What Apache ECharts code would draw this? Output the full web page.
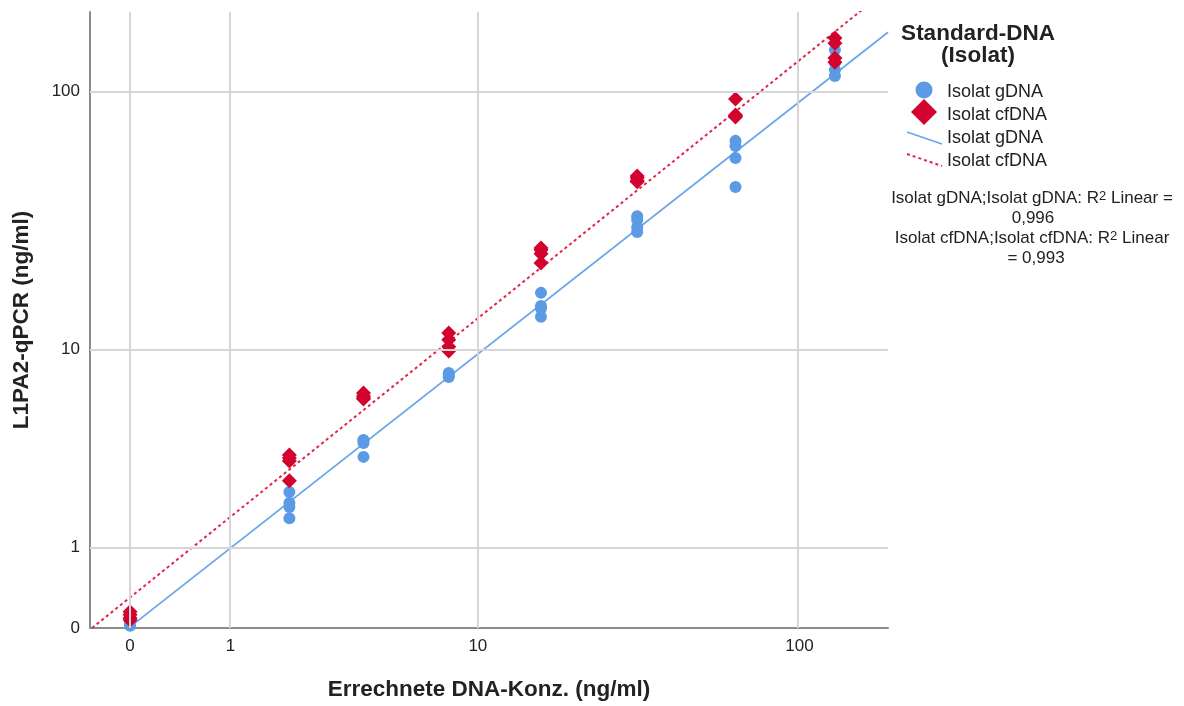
<!DOCTYPE html>
<html>
<head>
<meta charset="utf-8">
<script src="https://cdn.jsdelivr.net/npm/echarts@6/dist/echarts.min.js"></script>
<style>
  html, body { margin: 0; padding: 0; background: #fff; }
  #chart { width: 1184px; height: 706px; }
</style>
</head>
<body>
<div id="chart"></div>
<script>
// Standard concentrations (ng/ml); four replicates per level
const concentrations = [0, 2, 4, 8, 16, 32, 64, 128];

// Measured L1PA2-qPCR values (ng/ml), one row per concentration
const gdnaValues = [
  [0.02, 0.03, 0.05, 0.10],
  [2.22, 1.93, 1.83, 1.57],
  [4.03, 4.00, 3.90, 3.35],
  [7.94, 7.86, 7.72, 7.64],
  [16.8, 14.9, 14.6, 13.5],
  [33.4, 32.3, 30.3, 29.0],
  [64.7, 61.9, 55.7, 43.2],
  [142.4, 127.3, 119.8, 113.7]
];
const cfdnaValues = [
  [0.07, 0.09, 0.12, 0.15],
  [3.42, 3.31, 3.20, 2.54],
  [6.53, 6.34, 6.21, 6.15],
  [11.6, 10.9, 10.2, 9.8],
  [25.2, 24.7, 23.9, 22.0],
  [47.6, 46.8, 45.6, 45.2],
  [93.2, 81.1, 80.4, 79.7],
  [158, 151, 133, 128]
];

// Fit line end points (ng/ml)
const gdnaFitX = [0, 185];
const gdnaFitY = [0.01, 166];
const cfdnaFitX = [-0.3, 198];
const cfdnaFitY = [0, 258];

// Axis ticks and visible ranges (ng/ml)
const xTickValues = [0, 1, 10, 100];
const yTickValues = [0, 1, 10, 100];
const xRange = [-0.318, 185];
const yRange = [0, 197.8];

const seriesNames = ['Isolat gDNA', 'Isolat cfDNA'];
const rSquared = ['0,996', '0,993'];

// "Safe log" scale: sign(v) * log10(1 + |v|)
const slog = v => Math.sign(v) * Math.log10(1 + Math.abs(v));
const unslog = t => Math.sign(t) * (Math.pow(10, Math.abs(t)) - 1);

const FONT = "'Liberation Sans', Arial, sans-serif";
const BLUE = '#5b9ae4';
const BLUE_LINE = '#6aa7ea';
const RED = '#d2032f';
const RED_LINE = '#e3234c';
const TEXT = '#222';
const DIAMOND = 'path://M0,-1L1,0L0,1L-1,0Z';

function pointsOf(values) {
  const out = [];
  concentrations.forEach((c, i) => values[i].forEach(v => out.push([slog(c), slog(v)])));
  return out;
}
function lineOf(xs, ys) {
  return xs.map((x, i) => [slog(x), slog(ys[i])]);
}

const tickLabel = t => String(Math.round(unslog(t)));

const chart = echarts.init(document.getElementById('chart'), null, { renderer: 'canvas' });

const gridStyle = { color: '#d6d6d6', width: 2, type: 'solid' };
const supStyle = { fontSize: 13, verticalAlign: 'top', fill: TEXT, fontFamily: FONT };

chart.setOption({
  animation: false,
  backgroundColor: '#fff',
  textStyle: { fontFamily: FONT },
  grid: { left: 90, right: 296, top: 12, bottom: 78 },
  xAxis: {
    type: 'value',
    min: slog(xRange[0]),
    max: slog(xRange[1]),
    name: 'Errechnete DNA-Konz. (ng/ml)',
    nameLocation: 'middle',
    nameGap: 50,
    nameTextStyle: { fontFamily: FONT, fontSize: 22.5, fontWeight: 'bold', color: TEXT },
    axisLine: { show: true, onZero: false, lineStyle: { color: '#8c8c8c', width: 2 } },
    axisTick: { show: false },
    splitLine: { show: false },
    axisLabel: {
      customValues: xTickValues.map(slog),
      formatter: tickLabel,
      fontFamily: FONT, fontSize: 17, color: TEXT, margin: 10
    }
  },
  yAxis: {
    type: 'value',
    min: slog(yRange[0]),
    max: slog(yRange[1]),
    name: 'L1PA2-qPCR (ng/ml)',
    nameLocation: 'middle',
    nameGap: 57,
    nameTextStyle: { fontFamily: FONT, fontSize: 22.5, fontWeight: 'bold', color: TEXT },
    axisLine: { show: true, onZero: false, lineStyle: { color: '#8c8c8c', width: 2 } },
    axisTick: { show: false },
    splitLine: { show: false },
    axisLabel: {
      customValues: yTickValues.map(slog),
      formatter: tickLabel,
      fontFamily: FONT, fontSize: 17, color: TEXT, margin: 10
    }
  },
  series: [
    {
      // reference grid at the labelled ticks
      type: 'scatter',
      data: [],
      z: 0,
      silent: true,
      markLine: {
        silent: true,
        symbol: ['none', 'none'],
        label: { show: false },
        emphasis: { disabled: true },
        lineStyle: gridStyle,
        data: xTickValues.map(v => ({ xAxis: slog(v) }))
          .concat(yTickValues.filter(v => v > 0).map(v => ({ yAxis: slog(v) })))
      }
    },
    {
      name: seriesNames[0] + ' fit',
      type: 'line',
      data: lineOf(gdnaFitX, gdnaFitY),
      symbol: 'none',
      z: 2,
      lineStyle: { color: BLUE_LINE, width: 1.8 }
    },
    {
      name: seriesNames[1] + ' fit',
      type: 'line',
      data: lineOf(cfdnaFitX, cfdnaFitY),
      symbol: 'none',
      z: 2,
      lineStyle: { color: RED_LINE, width: 2, type: [3, 3] }
    },
    {
      name: seriesNames[0],
      type: 'scatter',
      data: pointsOf(gdnaValues),
      symbol: 'circle',
      symbolSize: 12,
      z: 3,
      itemStyle: { color: BLUE, opacity: 1 }
    },
    {
      name: seriesNames[1],
      type: 'scatter',
      data: pointsOf(cfdnaValues),
      symbol: DIAMOND,
      symbolSize: [15, 15],
      z: 4,
      itemStyle: { color: RED, opacity: 1 }
    }
  ],
  graphic: [
    { type: 'text', x: 978, y: 34, style: { text: 'Standard-DNA', font: `bold 22.5px ${FONT}`, fill: TEXT, align: 'center', verticalAlign: 'middle' } },
    { type: 'text', x: 978, y: 56, style: { text: '(Isolat)', font: `bold 22.5px ${FONT}`, fill: TEXT, align: 'center', verticalAlign: 'middle' } },

    { type: 'circle', shape: { cx: 924, cy: 90, r: 8.5 }, style: { fill: BLUE } },
    { type: 'text', x: 947, y: 92, style: { text: seriesNames[0], font: `18px ${FONT}`, fill: TEXT, align: 'left', verticalAlign: 'middle' } },

    { type: 'polygon', shape: { points: [[924, 99], [937, 112], [924, 125], [911, 112]] }, style: { fill: RED } },
    { type: 'text', x: 947, y: 115, style: { text: seriesNames[1], font: `18px ${FONT}`, fill: TEXT, align: 'left', verticalAlign: 'middle' } },

    { type: 'line', shape: { x1: 907, y1: 132, x2: 942, y2: 144 }, style: { stroke: BLUE_LINE, lineWidth: 1.8 } },
    { type: 'text', x: 947, y: 138, style: { text: seriesNames[0], font: `18px ${FONT}`, fill: TEXT, align: 'left', verticalAlign: 'middle' } },

    { type: 'line', shape: { x1: 907, y1: 154, x2: 942, y2: 166 }, style: { stroke: RED_LINE, lineWidth: 2, lineDash: [3, 3] } },
    { type: 'text', x: 947, y: 161, style: { text: seriesNames[1], font: `18px ${FONT}`, fill: TEXT, align: 'left', verticalAlign: 'middle' } },

    {
      type: 'text', x: 1032, y: 198,
      style: {
        text: `${seriesNames[0]};${seriesNames[0]}: R{sup|2} Linear =`,
        font: `17px ${FONT}`, fill: TEXT, align: 'center', verticalAlign: 'middle',
        rich: { sup: supStyle }
      }
    },
    { type: 'text', x: 1033, y: 218, style: { text: rSquared[0], font: `17px ${FONT}`, fill: TEXT, align: 'center', verticalAlign: 'middle' } },
    {
      type: 'text', x: 1032, y: 238,
      style: {
        text: `${seriesNames[1]};${seriesNames[1]}: R{sup|2} Linear`,
        font: `17px ${FONT}`, fill: TEXT, align: 'center', verticalAlign: 'middle',
        rich: { sup: supStyle }
      }
    },
    { type: 'text', x: 1036, y: 258, style: { text: '= ' + rSquared[1], font: `17px ${FONT}`, fill: TEXT, align: 'center', verticalAlign: 'middle' } }
  ]
});
</script>
</body>
</html>
